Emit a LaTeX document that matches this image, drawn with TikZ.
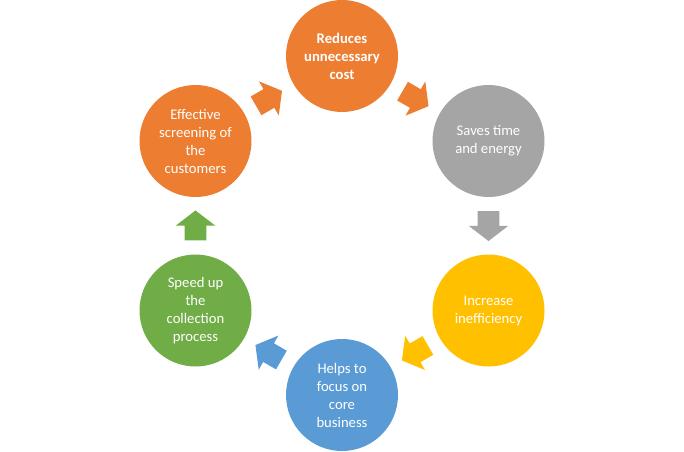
\documentclass[tikz,border=0pt]{standalone}
\usepackage{fontspec}
\setmainfont{Carlito}
\usetikzlibrary{shapes.arrows,positioning}

\definecolor{cycorange}{HTML}{ED7D31}
\definecolor{cycgray}{HTML}{A5A5A5}
\definecolor{cycyellow}{HTML}{FFC000}
\definecolor{cycblue}{HTML}{5B9BD5}
\definecolor{cycgreen}{HTML}{70AD47}

\tikzset{
  stage/.style={circle, minimum size=84pt, inner sep=0pt, text=white,
    align=center, font=\fontsize{11}{13.5}\selectfont},
  blockarr/.style={single arrow, draw=none, minimum height=22.5pt,
    inner xsep=0pt, inner ysep=7.875pt, single arrow head extend=6.75pt,
    single arrow tip angle=105, sloped, allow upside down,
    pos=0.237, anchor=tail}
}

\begin{document}
\begin{tikzpicture}[x=0.75pt, y=-0.75pt]
        \useasboundingbox (0,0) rectangle (684,452);
        % the six stages of the cycle
        \node[stage, fill=cycorange, font=\fontsize{11}{13.5}\selectfont\bfseries] (cost) at (342,56) {Reduces\\unnecessary\\cost};
        \node[stage, fill=cycgray] (time) at (488.5,141) {Saves time\\and energy};
        \node[stage, fill=cycyellow] (incr) at (488.5,310.5) {Increase\\inefficiency};
        \node[stage, fill=cycblue] (focus) at (342,395) {Helps to\\focus on\\core\\business};
        \node[stage, fill=cycgreen] (speed) at (195.5,310.5) {Speed up\\the\\collection\\process};
        \node[stage, fill=cycorange] (screen) at (195.5,141) {Effective\\screening of\\the\\customers};
        % block arrows between them
        \path (cost) -- node[blockarr, fill=cycorange] (a1) {} (time);
        \path (time) -- node[blockarr, fill=cycgray] (a2) {} (incr);
        \path (incr) -- node[blockarr, fill=cycyellow] (a3) {} (focus);
        \path (focus) -- node[blockarr, fill=cycblue] (a4) {} (speed);
        \path (speed) -- node[blockarr, fill=cycgreen] (a5) {} (screen);
        \path (screen) -- node[blockarr, fill=cycorange] (a6) {} (cost);
      \end{tikzpicture}
\end{document}
